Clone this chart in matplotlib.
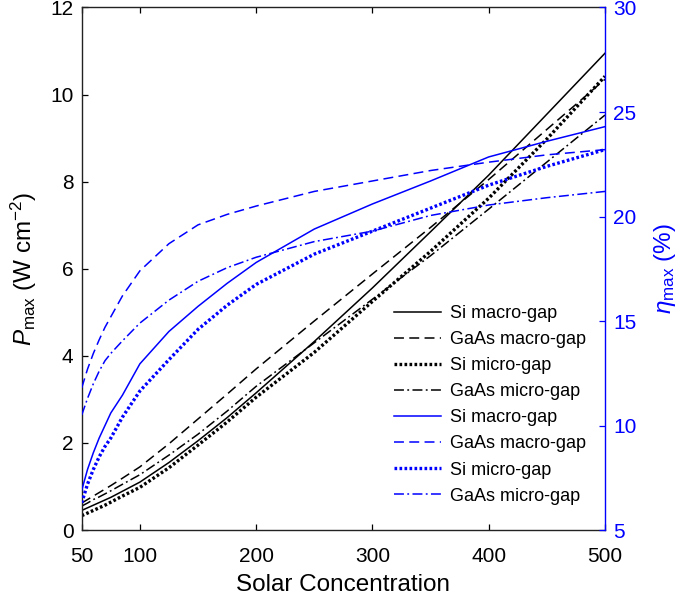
"""P_max and eta_max versus solar concentration, macro-gap vs micro-gap cells."""
import matplotlib

matplotlib.use("Agg")
import matplotlib.pyplot as plt

plt.rcParams["font.family"] = ["Liberation Sans", "DejaVu Sans"]
plt.rcParams["mathtext.fontset"] = "custom"
plt.rcParams["mathtext.rm"] = "Liberation Sans"
plt.rcParams["mathtext.it"] = "Liberation Sans:italic"

BLUE = "#0000ff"

conc = [50, 55, 60, 65, 70, 75, 85, 100, 125, 150, 175, 200, 250, 300, 350, 400, 450, 500]

# maximum power density (W cm^-2), left axis
p_si_macro = [0.45, 0.51, 0.57, 0.63, 0.69, 0.75, 0.89, 1.10, 1.55, 2.05, 2.58, 3.15,
              4.33, 5.56, 6.85, 8.15, 9.55, 10.95]
p_gaas_macro = [0.62, 0.70, 0.78, 0.86, 0.94, 1.02, 1.19, 1.45, 1.98, 2.55, 3.12, 3.70,
                4.80, 5.88, 6.95, 8.05, 9.20, 10.35]
p_si_micro = [0.33, 0.39, 0.45, 0.51, 0.57, 0.64, 0.78, 0.98, 1.43, 1.95, 2.48, 3.05,
              4.08, 5.25, 6.40, 7.62, 8.98, 10.42]
p_gaas_micro = [0.55, 0.62, 0.70, 0.76, 0.83, 0.90, 1.05, 1.27, 1.72, 2.20, 2.73, 3.30,
                4.30, 5.30, 6.30, 7.37, 8.45, 9.53]

# maximum efficiency (%), right axis
e_si_macro = [6.9, 7.9, 8.7, 9.4, 10.0, 10.6, 11.45, 12.95, 14.5, 15.7, 16.8, 17.8,
              19.4, 20.6, 21.7, 22.85, 23.6, 24.3]
e_gaas_macro = [11.8, 12.7, 13.45, 14.1, 14.7, 15.2, 16.2, 17.4, 18.7, 19.6, 20.1, 20.5,
                21.2, 21.7, 22.2, 22.6, 22.95, 23.2]
e_si_micro = [6.3, 7.2, 7.9, 8.5, 9.0, 9.4, 10.4, 11.65, 13.15, 14.6, 15.75, 16.75,
              18.2, 19.3, 20.4, 21.5, 22.4, 23.2]
e_gaas_micro = [10.5, 11.3, 12.0, 12.6, 13.1, 13.45, 14.05, 14.9, 16.0, 16.9, 17.55, 18.05,
                18.8, 19.3, 20.05, 20.55, 20.9, 21.2]

labels = ["Si macro-gap", "GaAs macro-gap", "Si micro-gap", "GaAs micro-gap"]

DASH = (0, (6.5, 3.5))
DOT = (0, (0.8, 0.7))
DASHDOT = (0, (6.5, 2.2, 1.2, 2.2))


def main() -> None:
    fig = plt.figure(figsize=(6.85, 5.95), dpi=100)
    ax = fig.add_axes([0.1193, 0.1092, 0.7639, 0.8782])
    ax2 = ax.twinx()

    styles = [("-", 1.1), (DASH, 1.1), (DOT, 2.4), (DASHDOT, 1.1)]
    handles = []
    for ys, (ls, lw), lab in zip([p_si_macro, p_gaas_macro, p_si_micro, p_gaas_micro],
                                 styles, labels):
        h, = ax.plot(conc, ys, color="black", ls=ls, lw=lw, label=lab,
                     dash_capstyle="butt")
        handles.append(h)
    for ys, (ls, lw), lab in zip([e_si_macro, e_gaas_macro, e_si_micro, e_gaas_micro],
                                 styles, labels):
        h, = ax2.plot(conc, ys, color=BLUE, ls=ls, lw=lw, label=lab,
                      dash_capstyle="butt")
        handles.append(h)

    ax.set_xlim(50, 500)
    ax.set_ylim(0, 12)
    ax2.set_ylim(5, 30)
    ax.set_xticks([50, 100, 200, 300, 400, 500])
    ax.set_yticks(range(0, 13, 2))
    ax2.set_yticks(range(5, 31, 5))

    ax.tick_params(direction="in", length=4, width=0.9, labelsize=15,
                   top=True, colors="black")
    ax.tick_params(axis="x", pad=12)
    ax.tick_params(axis="y", right=False, pad=6)
    ax2.tick_params(direction="in", length=4, width=0.9, labelsize=15,
                    colors=BLUE, pad=6)
    for sp in ["left", "bottom", "top"]:
        ax.spines[sp].set_color("#222222")
        ax.spines[sp].set_linewidth(1.0)
    ax.spines["right"].set_visible(False)
    ax2.spines["right"].set_color(BLUE)
    ax2.spines["right"].set_linewidth(1.0)
    for sp in ["left", "bottom", "top"]:
        ax2.spines[sp].set_visible(False)

    ax.set_xlabel("Solar Concentration", fontsize=17.5, labelpad=6)
    ax.set_ylabel(r"$P_{\mathrm{max}}$ (W cm$^{-2}$)", fontsize=17.5, labelpad=8)
    ax2.set_ylabel(r"$\eta_{\mathrm{max}}$ (%)", fontsize=17.5, color=BLUE,
                   labelpad=11)

    ax2.legend(handles=handles, loc="upper left",
               bbox_to_anchor=(0.596, 0.43), frameon=False, fontsize=13,
               handlelength=2.6, handletextpad=0.5, labelspacing=0.5,
               borderpad=0, borderaxespad=0)

    fig.savefig("out.png", dpi=100)
    plt.close(fig)


if __name__ == "__main__":
    main()
